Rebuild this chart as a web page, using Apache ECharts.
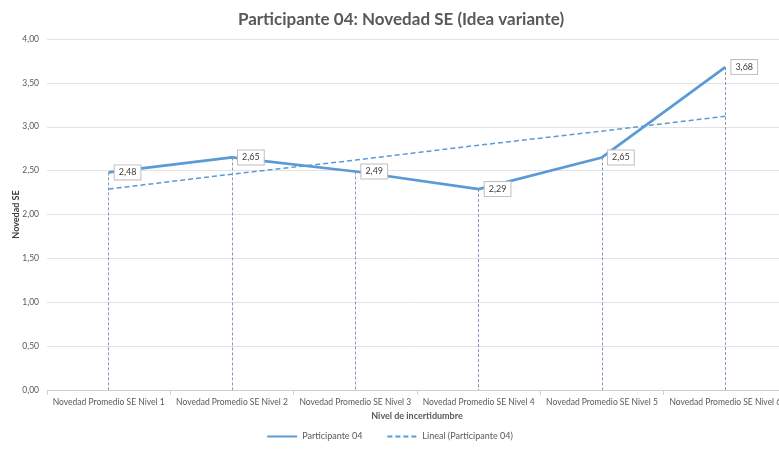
<!DOCTYPE html>
<html>
<head>
<meta charset="utf-8">
<script src="https://cdn.jsdelivr.net/npm/echarts@6/dist/echarts.min.js"></script>
<style>
  html, body { margin: 0; padding: 0; background: #fff; }
  #chart { width: 779px; height: 452px; }
</style>
</head>
<body>
<div id="chart"></div>
<script>
// datos
const categories = [
  'Novedad Promedio SE Nivel 1',
  'Novedad Promedio SE Nivel 2',
  'Novedad Promedio SE Nivel 3',
  'Novedad Promedio SE Nivel 4',
  'Novedad Promedio SE Nivel 5',
  'Novedad Promedio SE Nivel 6'
]
const participante = [2.48, 2.65, 2.49, 2.29, 2.65, 3.68]
const lineal = [2.29, 2.46, 2.62, 2.79, 2.95, 3.12]
const yTicks = { min: 0, max: 4, interval: 0.5 }

const fmt = v => v.toFixed(2).replace('.', ',')
const font = 'Lato, "Open Sans", sans-serif'

const chart = echarts.init(document.getElementById('chart'))

// lineas verticales de cada punto hasta el eje
const dropLines = participante.map((v, i) => [
  { coord: [i, v] },
  { coord: [i, 0] }
])

const option = {
  textStyle: { fontFamily: font },
  title: {
    text: 'Participante 04: Novedad SE (Idea variante)',
    left: 396,
    textAlign: 'center',
    top: 6,
    textStyle: { fontSize: 17, fontWeight: 'bold', color: '#595959', fontFamily: font }
  },
  // el area del grafico se sale un poco por la derecha, como en el original
  grid: { left: 47, width: 740, top: 39, bottom: 62, outerBoundsMode: 'none' },
  legend: {
    bottom: 6,
    left: 'center',
    itemWidth: 30,
    itemHeight: 8,
    itemGap: 24,
    itemStyle: { opacity: 0 },
    textStyle: { fontSize: 9, color: '#595959' },
    data: ['Participante 04', 'Lineal (Participante 04)']
  },
  xAxis: {
    type: 'category',
    data: categories,
    boundaryGap: true,
    name: 'Nivel de incertidumbre',
    nameLocation: 'middle',
    nameGap: 22,
    nameMoveOverlap: false,
    nameTextStyle: { fontSize: 9, fontWeight: 'bold', color: '#595959' },
    axisLine: { lineStyle: { color: '#d0d0d0' } },
    axisTick: { show: true, length: 5, lineStyle: { color: '#d0d0d0' } },
    axisLabel: { interval: 0, fontSize: 8.5, color: '#595959', margin: 8 }
  },
  yAxis: {
    type: 'value',
    min: yTicks.min,
    max: yTicks.max,
    interval: yTicks.interval,
    name: 'Novedad SE',
    nameLocation: 'middle',
    nameGap: 26,
    nameMoveOverlap: false,
    nameTextStyle: { fontSize: 9, fontWeight: 'bold', color: '#404040' },
    axisLine: { show: false },
    axisTick: { show: false },
    axisLabel: { fontSize: 8.5, color: '#595959', formatter: v => fmt(v), margin: 8 },
    splitLine: { lineStyle: { color: '#e3e3e3' } }
  },
  series: [
    {
      name: 'Participante 04',
      type: 'line',
      data: participante,
      symbol: 'circle',
      symbolSize: 0.1,
      showSymbol: true,
      lineStyle: { color: '#5b9bd5', width: 2.75 },
      itemStyle: { color: '#5b9bd5' },
      z: 3,
      label: {
        show: true,
        position: 'right',
        distance: 6,
        formatter: p => fmt(p.value),
        fontSize: 9,
        color: '#404040',
        backgroundColor: '#fff',
        borderColor: '#bfbfbf',
        borderWidth: 1,
        padding: [3, 4, 2, 4]
      },
      markLine: {
        silent: true,
        symbol: 'none',
        label: { show: false },
        lineStyle: { color: '#8197bb', type: [3, 2], width: 1 },
        data: dropLines
      }
    },
    {
      name: 'Lineal (Participante 04)',
      type: 'line',
      data: lineal,
      symbol: 'none',
      lineStyle: { color: '#5b9bd5', width: 1.5, type: [5, 3] },
      itemStyle: { color: '#5b9bd5' },
      z: 2
    }
  ]
}

chart.setOption(option)
window.addEventListener('resize', function () {
  chart.resize()
})
</script>
</body>
</html>
